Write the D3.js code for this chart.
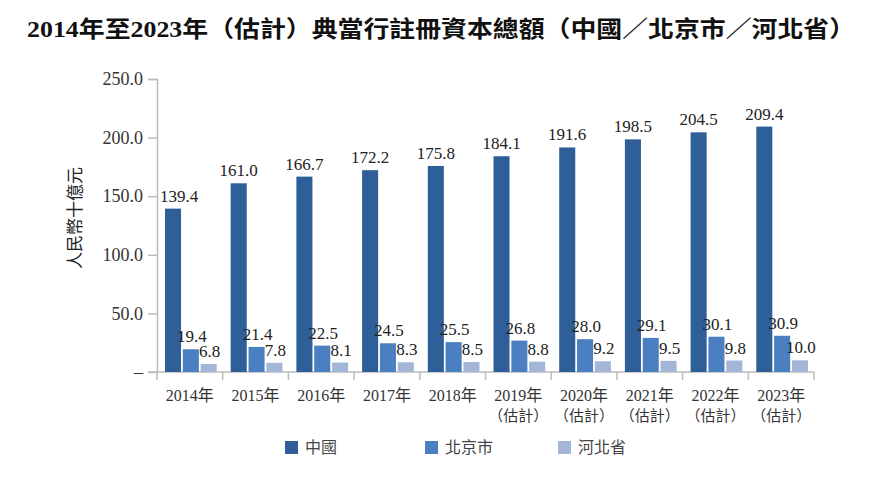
<!DOCTYPE html>
<html>
<head>
<meta charset="utf-8">
<script src="https://cdn.jsdelivr.net/npm/d3@7"></script>
<style>
  body { margin: 0; background: #fff; }
  svg { display: block; }
</style>
</head>
<body>
<div id="chartContainer"></div>
<script>
// Data
const years = ['2014年', '2015年', '2016年', '2017年', '2018年', '2019年', '2020年', '2021年', '2022年', '2023年'];
const estimated = [false, false, false, false, false, true, true, true, true, true];
const seriesNames = ['中國', '北京市', '河北省'];
const china = [139.4, 161.0, 166.7, 172.2, 175.8, 184.1, 191.6, 198.5, 204.5, 209.4];
const beijing = [19.4, 21.4, 22.5, 24.5, 25.5, 26.8, 28.0, 29.1, 30.1, 30.9];
const hebei = [6.8, 7.8, 8.1, 8.3, 8.5, 8.8, 9.2, 9.5, 9.8, 10.0];
const yTicks = [0, 50, 100, 150, 200, 250];

const seriesValues = [china, beijing, hebei];
const colors = ['#2e5f98', '#4a80c2', '#a4b6d8'];

// Dimensions
const W = 872, H = 479;
const margin = { top: 79, right: 58, bottom: 107, left: 157 };
const width = W - margin.left - margin.right;
const height = H - margin.top - margin.bottom;

const serif = '"Liberation Serif", "Times New Roman", "Noto Sans CJK TC", serif';
const sans = '"Noto Sans CJK TC", "Noto Sans", sans-serif';

const svg = d3.select('#chartContainer')
    .append('svg')
    .attr('width', W)
    .attr('height', H);

// Title
svg.append('text')
    .attr('x', 27)
    .attr('y', 37)
    .attr('textLength', 828)
    .attr('lengthAdjust', 'spacingAndGlyphs')
    .style('font-family', serif)
    .style('font-weight', 'bold')
    .style('font-size', '23px')
    .style('fill', '#111')
    .text('2014年至2023年（估計）典當行註冊資本總額（中國／北京市／河北省）');

const g = svg.append('g')
    .attr('transform', `translate(${margin.left},${margin.top})`);

// Scales
const x0 = d3.scaleBand().domain(years).range([0, width]).paddingInner(0).paddingOuter(0);
const x1 = d3.scaleBand().domain(seriesNames).range([8, x0.bandwidth() - 6]).paddingInner(0.1);
const y = d3.scaleLinear().domain([0, 250]).range([height, 0]);

// Y axis
const yAxis = g.append('g')
    .call(d3.axisLeft(y).tickValues(yTicks).tickSize(9).tickPadding(5)
        .tickFormat(d => d === 0 ? '–' : d3.format('.1f')(d)));
yAxis.select('.domain').attr('stroke', '#bbb').attr('stroke-width', 1.5);
yAxis.selectAll('.tick line').attr('stroke', '#bbb').attr('stroke-width', 1.5)
    .attr('opacity', d => d === 0 ? 0 : 1);
yAxis.selectAll('.tick text')
    .style('font-family', serif)
    .style('font-size', '18px')
    .style('fill', '#333');

// X axis
const xAxis = g.append('g')
    .attr('transform', `translate(0,${height})`);
xAxis.append('line')
    .attr('x1', -9).attr('x2', width)
    .attr('stroke', '#bbb').attr('stroke-width', 1.5);
xAxis.selectAll('.sep')
    .data(d3.range(years.length + 1))
    .join('line')
    .attr('class', 'sep')
    .attr('x1', i => i * x0.step()).attr('x2', i => i * x0.step())
    .attr('y1', 0).attr('y2', 8)
    .attr('stroke', '#bbb').attr('stroke-width', 1.5);

const xLabels = xAxis.selectAll('.xl')
    .data(years)
    .join('text')
    .attr('class', 'xl')
    .attr('text-anchor', 'middle')
    .attr('x', d => x0(d) + x0.bandwidth() / 2)
    .style('font-family', serif)
    .style('font-size', '16px')
    .style('fill', '#333');
xLabels.append('tspan')
    .attr('x', d => x0(d) + x0.bandwidth() / 2)
    .attr('y', 29)
    .text(d => d);
xLabels.filter((d, i) => estimated[i])
    .append('tspan')
    .attr('x', d => x0(d) + x0.bandwidth() / 2)
    .attr('y', 49)
    .style('font-family', sans)
    .style('font-size', '15px')
    .text('（估計）');

// Bars
const groups = g.selectAll('.grp')
    .data(years)
    .join('g')
    .attr('class', 'grp')
    .attr('transform', d => `translate(${x0(d)},0)`);

seriesNames.forEach((name, s) => {
    groups.append('rect')
        .attr('x', x1(name))
        .attr('width', x1.bandwidth())
        .attr('y', (d, i) => y(seriesValues[s][i]))
        .attr('height', (d, i) => height - y(seriesValues[s][i]))
        .attr('fill', colors[s]);

    groups.append('text')
        .attr('text-anchor', 'middle')
        // the first label is nudged right off the axis line
        .attr('x', (d, i) => x1(name) + x1.bandwidth() / 2 + (s === 0 ? (i === 0 ? 6 : 0) : 1))
        .attr('y', (d, i) => y(seriesValues[s][i]) - 7)
        .style('font-family', serif)
        .style('font-size', '17px')
        .style('fill', '#222')
        .text((d, i) => d3.format('.1f')(seriesValues[s][i]));
});

// Y axis title
svg.append('text')
    .attr('transform', 'translate(81,218) rotate(-90)')
    .attr('text-anchor', 'middle')
    .style('font-family', sans)
    .style('font-size', '17px')
    .style('fill', '#222')
    .text('人民幣十億元');

// Legend
const legendX = [285, 425, 558];
const legend = svg.selectAll('.lg')
    .data(seriesNames)
    .join('g')
    .attr('class', 'lg')
    .attr('transform', (d, i) => `translate(${legendX[i]},441)`);
legend.append('rect')
    .attr('width', 13).attr('height', 13)
    .attr('fill', (d, i) => colors[i]);
legend.append('text')
    .attr('x', 20).attr('y', 12)
    .style('font-family', sans)
    .style('font-size', '16px')
    .style('fill', '#444')
    .text(d => d);
</script>
</body>
</html>
